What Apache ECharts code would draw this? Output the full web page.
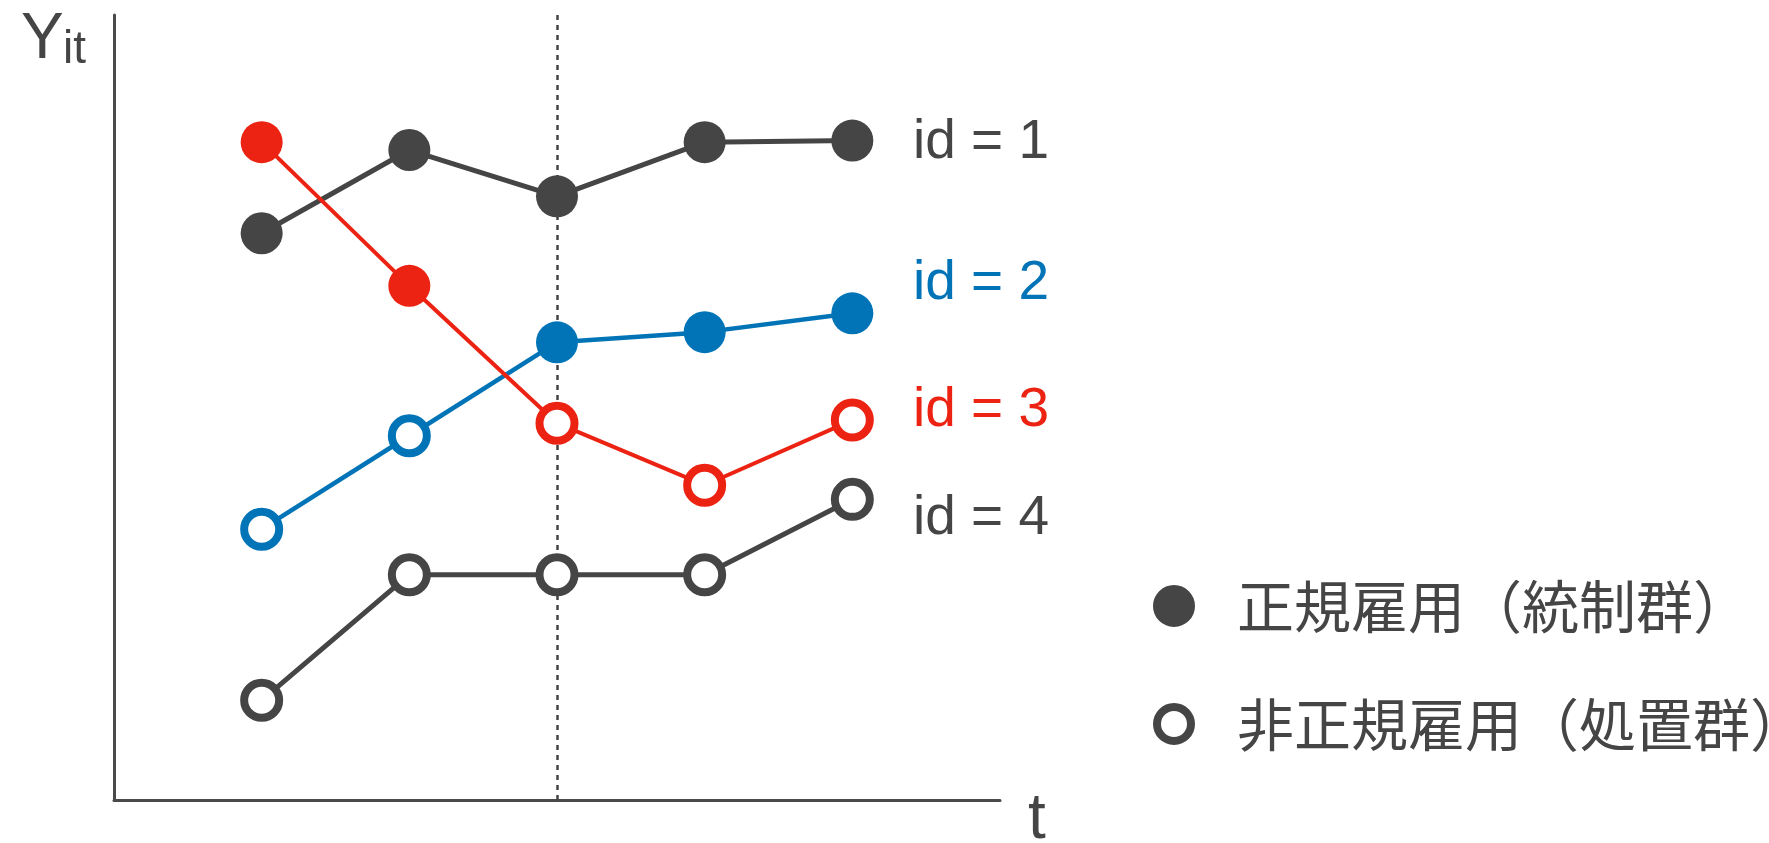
<!DOCTYPE html>
<html>
<head>
<meta charset="utf-8">
<script src="https://cdn.jsdelivr.net/npm/echarts@6/dist/echarts.min.js"></script>
<style>
  html, body { margin: 0; padding: 0; background: #fff; }
  #chart { width: 1769px; height: 843px; }
</style>
</head>
<body>
<div id="chart"></div>
<script>
// Time periods and outcome Y_it for each individual
const periods = [1, 2, 3, 4, 5];
const treatmentPeriod = 3;
const id1 = [72.2, 82.8, 76.9, 83.8, 84.0];
const id2 = [34.5, 46.4, 58.3, 59.6, 62.0];
const id3 = [83.8, 65.5, 48.0, 40.1, 48.4];
const id4 = [12.7, 28.7, 28.7, 28.7, 38.3];
// 1 = 非正規雇用 (treated) in that period, 0 = 正規雇用 (control)
const status1 = [0, 0, 0, 0, 0];
const status2 = [1, 1, 0, 0, 0];
const status3 = [0, 0, 1, 1, 1];
const status4 = [1, 1, 1, 1, 1];
const idLabels = ['id = 1', 'id = 2', 'id = 3', 'id = 4'];
const groupNames = ['正規雇用（統制群）', '非正規雇用（処置群）'];
const axisNameY = ['Y', 'it'];
const axisNameX = 't';

const DARK = '#454545', BLUE = '#0074B7', RED = '#EC2312';
const people = [
  { values: id1, status: status1, color: DARK, width: 5 },
  { values: id2, status: status2, color: BLUE, width: 4.5 },
  { values: id4, status: status4, color: DARK, width: 5 },
  { values: id3, status: status3, color: RED, width: 4 }
];

const lineSeries = people.map((p, i) => ({
  type: 'line',
  name: 'line' + i,
  data: periods.map((t, k) => [t, p.values[k]]),
  showSymbol: false,
  symbol: 'none',
  silent: true,
  z: 2,
  lineStyle: { color: p.color, width: p.width }
}));

const filledPts = [], openPts = [];
people.forEach(p => {
  periods.forEach((t, k) => {
    if (p.status[k]) {
      openPts.push({ value: [t, p.values[k]], itemStyle: { color: '#fff', borderColor: p.color, borderWidth: 8, opacity: 1 } });
    } else {
      filledPts.push({ value: [t, p.values[k]], itemStyle: { color: p.color, opacity: 1 } });
    }
  });
});

const chart = echarts.init(document.getElementById('chart'), null, { renderer: 'canvas' });
const labelFont = '"Liberation Sans", Arial, Helvetica, sans-serif';
const labelY = [143, 284, 411, 519];
const labelColors = [DARK, BLUE, RED, DARK];

chart.setOption({
  animation: false,
  backgroundColor: '#fff',
  grid: { left: 114, top: 15, width: 886, height: 785, containLabel: false },
  xAxis: {
    type: 'value', min: 0, max: 6,
    axisLine: { show: true, lineStyle: { color: '#4a4a4a', width: 3 } },
    axisTick: { show: false }, axisLabel: { show: false }, splitLine: { show: false }
  },
  yAxis: {
    type: 'value', min: 0, max: 100,
    axisLine: { show: true, lineStyle: { color: '#4a4a4a', width: 3 } },
    axisTick: { show: false }, axisLabel: { show: false }, splitLine: { show: false }
  },
  legend: {
    orient: 'vertical',
    left: 1148, top: 571,
    itemWidth: 34, itemHeight: 34,
    itemGap: 58,
    selectedMode: false,
    icon: 'circle',
    textStyle: {
      fontFamily: '"Noto Sans CJK JP", sans-serif',
      fontSize: 57, color: '#454545', lineHeight: 60,
      padding: [0, 0, 0, 41]
    },
    data: [
      { name: groupNames[0], itemStyle: { color: DARK, borderColor: DARK, borderWidth: 8, opacity: 1 } },
      { name: groupNames[1], itemStyle: { color: '#fff', borderColor: DARK, borderWidth: 8, opacity: 1 } }
    ]
  },
  series: [
    ...lineSeries.slice(0, 1).map(s => Object.assign(s, {
      markLine: {
        silent: true, symbol: 'none', label: { show: false },
        lineStyle: { color: '#444', width: 2.5, type: [5, 5], opacity: 1 },
        data: [[{ coord: [treatmentPeriod, 0] }, { coord: [treatmentPeriod, 100] }]]
      }
    })),
    ...lineSeries.slice(1),
    {
      type: 'scatter', name: groupNames[0], data: filledPts,
      symbol: 'circle', symbolSize: 42, z: 5,
      itemStyle: { color: DARK, borderColor: DARK, borderWidth: 0, opacity: 1 }
    },
    {
      type: 'scatter', name: groupNames[1], data: openPts,
      symbol: 'circle', symbolSize: 35, z: 5,
      itemStyle: { color: '#fff', borderColor: DARK, borderWidth: 8, opacity: 1 }
    }
  ],
  graphic: [
    { type: 'text', x: 21, y: 40, style: { text: axisNameY[0], font: '64px ' + labelFont, fill: DARK, verticalAlign: 'middle', align: 'left' } },
    { type: 'text', x: 63, y: 50, style: { text: axisNameY[1], font: '46px ' + labelFont, fill: DARK, verticalAlign: 'middle', align: 'left' } },
    { type: 'text', x: 1028, y: 820, style: { text: axisNameX, font: '64px ' + labelFont, fill: DARK, verticalAlign: 'middle', align: 'left' } },
    ...idLabels.map((txt, i) => ({
      type: 'text', x: 913, y: labelY[i],
      style: { text: txt, font: '55px ' + labelFont, fill: labelColors[i], verticalAlign: 'middle', align: 'left' }
    }))
  ]
});
</script>
</body>
</html>
